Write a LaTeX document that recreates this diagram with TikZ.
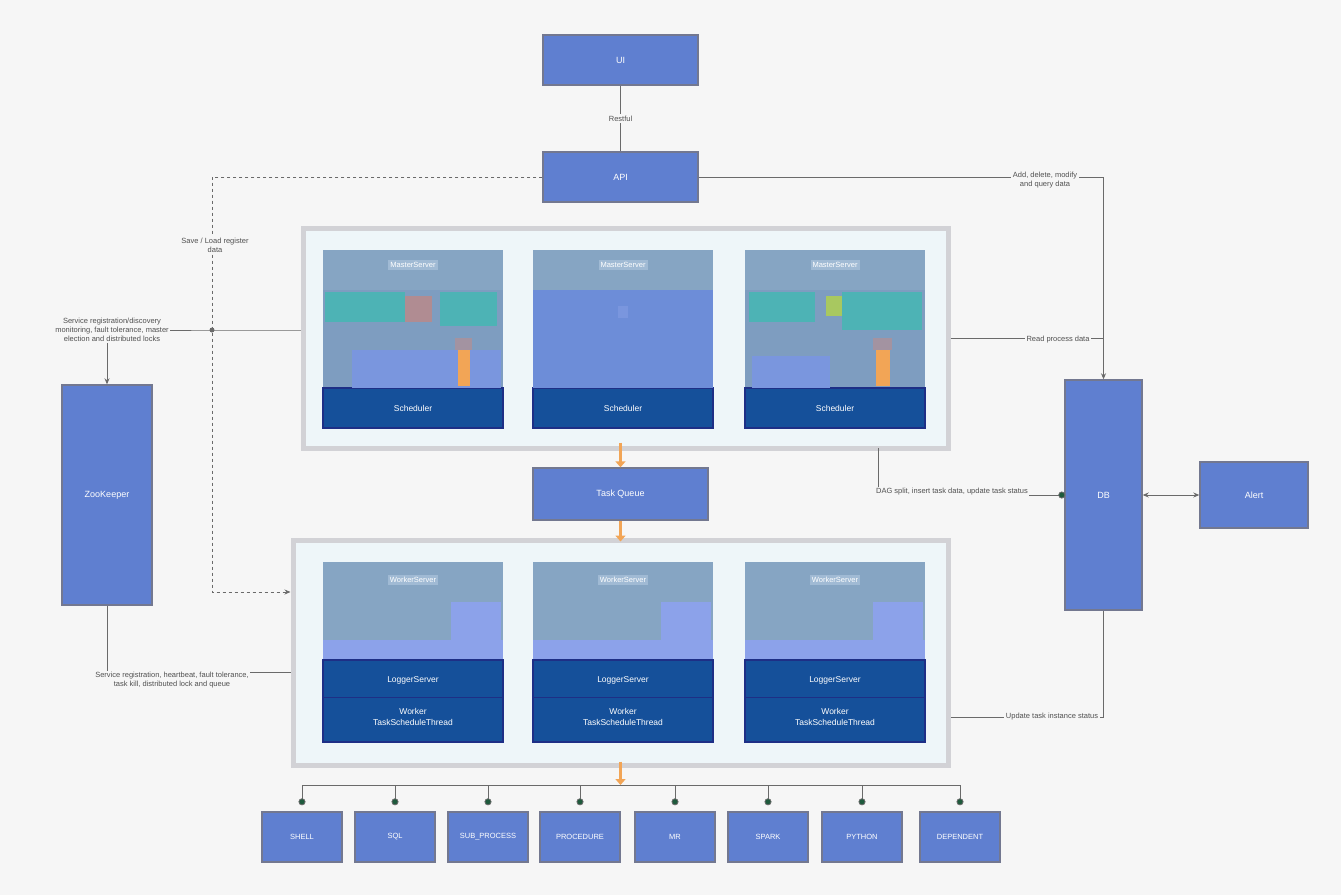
\documentclass[tikz,border=0pt]{standalone}
\usepackage{fontspec}
\setmainfont{Liberation Sans}
\usetikzlibrary{arrows.meta,calc}
\definecolor{bg}{HTML}{F6F6F6}
\definecolor{boxblue}{HTML}{5F7FD0}
\definecolor{boxedge}{HTML}{737890}
\definecolor{hdr}{HTML}{86A5C3}
\definecolor{hdrlight}{HTML}{A0BAD4}
\definecolor{mbody}{HTML}{7E9DC0}
\definecolor{mbody2}{HTML}{6D8DD8}
\definecolor{lightband}{HTML}{7A96DE}
\definecolor{foot}{HTML}{15509A}
\definecolor{footedge}{HTML}{1E2F86}
\definecolor{teal1}{HTML}{4DB3B5}
\definecolor{rose}{HTML}{B08C92}
\definecolor{ygreen}{HTML}{A8C860}
\definecolor{orng}{HTML}{F2A556}
\definecolor{contfill}{HTML}{EEF6F9}
\definecolor{contedge}{HTML}{D2D2D6}
\definecolor{wband}{HTML}{8CA2EA}
\definecolor{linec}{HTML}{6A6A6A}
\definecolor{dotc}{HTML}{1E5A3C}
\definecolor{lbltext}{HTML}{505050}
\begin{document}
\begin{tikzpicture}[x=1pt,y=-1pt,
  bluebox/.style={rectangle, fill=boxblue, draw=boxedge, line width=1.4pt, text=white,
    font=\fontsize{9}{11}\selectfont, inner sep=0pt},
  contbox/.style={rectangle, fill=contfill, draw=contedge, line width=5pt, inner sep=0pt},
  titletag/.style={fill=hdrlight, text=white, font=\fontsize{7.5}{9}\selectfont, inner sep=2pt},
  footbox/.style={rectangle, fill=foot, draw=footedge, line width=1.6pt, text=white,
    font=\fontsize{8.5}{10}\selectfont, inner sep=0pt},
  foottext/.style={text=white, font=\fontsize{8.5}{10.5}\selectfont, align=center, inner sep=0pt},
  lbl/.style={font=\fontsize{7.5}{9}\selectfont, text=lbltext, fill=bg, inner sep=1.5pt, align=center},
  conn/.style={draw=linec, line width=0.8pt},
  tip/.style={-{Stealth[length=6pt,width=5pt]}},
  dottip/.style={-{Circle[length=7pt,width=7pt,fill=dotc]}},
  orangearrow/.style={draw=orng, line width=3.5pt, -{Triangle[length=6pt,width=10pt]}}
]
\useasboundingbox[fill=bg] (0,0) rectangle (1341,895);

% ---------- top boxes ----------
\node[bluebox, minimum width=155, minimum height=50] (ui) at (620.5,60) {UI};
\node[bluebox, minimum width=155, minimum height=50] (api) at (620.5,177) {API};
\draw[conn] (ui.south) -- (api.north) node[midway, lbl] (restful) {Restful};

% ---------- master container ----------
\node[contbox, minimum width=645, minimum height=220] (mc) at (625.5,338) {};
\foreach \L/\n in {323/1,533/2,745/3}{
  \node[rectangle, fill=mbody, inner sep=0pt, minimum width=180, minimum height=178] (m\n) at (\L+90,339) {};
  \fill[hdr] (\L,250) rectangle (\L+180,290);
  \node[titletag] (mt\n) at (\L+90,265) {MasterServer};
  \node[footbox, minimum width=180, minimum height=40] (ms\n) at (\L+90,408) {Scheduler};
}
% master 2 plain body
\fill[mbody2] (533,290) rectangle (713,388);
\fill[lightband] (618,306) rectangle (628,318);
% master 1 details
\fill[teal1] (325,292) rectangle (405,322);
\fill[rose] (405,296) rectangle (432,322);
\fill[teal1] (440,292) rectangle (497,326);
\fill[lightband] (352,350) rectangle (501,388);
\fill[rose!70!hdr] (455,338) rectangle (472,350);
\fill[orng] (458,350) rectangle (470,386);
% master 3 details
\fill[teal1] (749,292) rectangle (815,322);
\fill[ygreen] (826,296) rectangle (842,316);
\fill[teal1] (842,292) rectangle (922,330);
\fill[lightband] (752,356) rectangle (830,388);
\fill[rose!70!hdr] (873,338) rectangle (892,350);
\fill[orng] (876,350) rectangle (890,386);

% ---------- task queue ----------
\node[bluebox, minimum width=175, minimum height=52] (tq) at (620.5,494) {Task Queue};

% ---------- worker container ----------
\node[contbox, minimum width=655, minimum height=225] (wc) at (620.5,652.5) {};
\foreach \L/\n in {323/1,533/2,745/3}{
  \node[rectangle, fill=hdr, inner sep=0pt, minimum width=180, minimum height=98] (w\n) at (\L+90,611) {};
  \fill[wband] (\L+128,602) rectangle (\L+178,640);
  \fill[wband] (\L,640) rectangle (\L+180,660);
  \node[titletag] (wt\n) at (\L+90,580) {WorkerServer};
  \node[footbox, minimum width=180, minimum height=82] (wf\n) at (\L+90,701) {};
  \node[foottext] (wl\n) at (\L+90,680) {LoggerServer};
  \draw[footedge, line width=1pt] (\L,697) -- (\L+180,697);
  \node[foottext] (wx\n) at (\L+90,717) {Worker\\TaskScheduleThread};
}

% ---------- side boxes ----------
\node[bluebox, minimum width=90, minimum height=220] (zk) at (107,495) {ZooKeeper};
\node[bluebox, minimum width=77, minimum height=230] (db) at (1103.5,495) {DB};
\node[bluebox, minimum width=108, minimum height=66] (alert) at (1254,495) {Alert};

% ---------- bottom task types ----------
\foreach \x/\n/\t in {302/1/SHELL,395/2/SQL,488/3/SUB\_PROCESS,580/4/PROCEDURE,675/5/MR,768/6/SPARK,862/7/PYTHON,960/8/DEPENDENT}{
  \node[bluebox, minimum width=80, minimum height=50, font=\fontsize{7.5}{9}\selectfont] (b\n) at (\x,837) {\t};
}

% ---------- orange flow arrows ----------
\draw[orangearrow] ([yshift=8pt]tq.north |- mc.south) -- (tq.north);
\draw[orangearrow] (tq.south) -- ([yshift=-4pt]wc.north);
\coordinate (busmid) at (620.5,785);
\draw[orangearrow] ([yshift=6pt]wc.south) -- (busmid);

% ---------- bus to task types ----------
\draw[conn] (b1.north |- busmid) -- (b8.north |- busmid);
\foreach \n in {1,...,8}{
  \draw[conn, dottip] (b\n.north |- busmid) -- ([yshift=6pt]b\n.north);
}

% ---------- left side connectors ----------
\coordinate (jd) at (212,592);
\coordinate (j1) at (212,330);
\draw[conn, dashed, tip] (api.west) -| (jd) -- ([yshift=60.5pt]wc.west);
\node[lbl] (savelbl) at (215,245) {Save / Load register\\data};
\node[lbl] (zklbl) at (112,330) {Service registration/discovery\\monitoring, fault tolerance, master\\election and distributed locks};
\draw[conn] ([yshift=8pt]mc.west) -- (j1) -- (zklbl.east);
\fill[linec] (j1) circle (2.5pt);
\draw[conn, tip] (zklbl.south -| zk.north) -- (zk.north);
\draw[conn] (zk.south) |- ([yshift=-19.5pt]wc.west);
\node[lbl] (zkwlbl) at (172,680) {Service registration, heartbeat, fault tolerance,\\task kill, distributed lock and queue};

% ---------- right side connectors ----------
\draw[conn, tip] (api.east) -| (db.north);
\node[lbl] (apidblbl) at (1045,180) {Add, delete, modify\\and query data};
\draw[conn] (mc.east) -- (mc.east -| db.north);
\node[lbl] (mdblbl) at (1058,340) {Read process data};
\coordinate (mb) at (878,448);
\draw[conn, dottip] (mb) |- ([xshift=1pt]db.west);
\node[lbl] (dblbl) at (952,492) {DAG split, insert task data, update task status};
\draw[conn, {Stealth[length=6pt,width=5pt]}-{Stealth[length=6pt,width=5pt]}] (db.east) -- (alert.west);
\draw[conn] (db.south) |- ([yshift=-64.5pt]wc.east);
\node[lbl] (dbwlbl) at (1052,717) {Update task instance status};
\end{tikzpicture}
\end{document}
